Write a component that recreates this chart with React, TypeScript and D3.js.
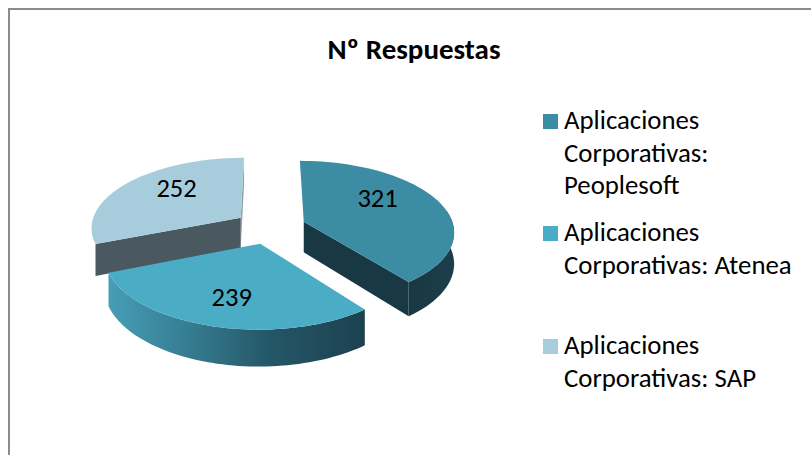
import React from "react";
import * as d3 from "d3";

const labels = ["Aplicaciones Corporativas: Peoplesoft", "Aplicaciones Corporativas: Atenea", "Aplicaciones Corporativas: SAP"];
const values = [321, 239, 252];
const topColors = ["#3c8ca4", "#4bacc6", "#a7cddc"];
const legendLines = [
  ["Aplicaciones", "Corporativas:", "Peoplesoft"],
  ["Aplicaciones", "Corporativas: Atenea"],
  ["Aplicaciones", "Corporativas: SAP"],
];
const title = "Nº Respuestas";

const W = 811, H = 455;
const FONT = "Carlito, Calibri, Lato, sans-serif";
const cx = 270, cy = 227, kx = 150, ky = 70, persp = 0.13, depth = 31, explode = 0.24;

type P = [number, number];
const project = (X: number, Y: number, down = 0): P => {
  const s = 1 / (1 - persp * Y);
  return [cx + kx * X * s, cy + ky * Y * s + down * s];
};

const arcs = d3.pie<number>().sort(null).value((d) => d)(values);
const line = d3.line();

function sliceGeom(a: d3.PieArcDatum<number>) {
  const mid = (a.startAngle + a.endAngle) / 2;
  const ox = explode * Math.sin(mid), oy = -explode * Math.cos(mid);
  const angles = d3.range(0, 61).map((i) => a.startAngle + ((a.endAngle - a.startAngle) * i) / 60);
  const rim = (t: number, down = 0) => project(ox + Math.sin(t), oy - Math.cos(t), down);
  const apex = (down = 0) => project(ox, oy, down);
  const top = [apex(), ...angles.map((t) => rim(t))] as P[];
  const front = angles.filter((t) => Math.cos(t) < 0.2);
  const wall = [...front.map((t) => rim(t)), ...front.slice().reverse().map((t) => rim(t, depth))] as P[];
  const cutStart = [apex(), rim(a.startAngle), rim(a.startAngle, depth), apex(depth)] as P[];
  const cutEnd = [apex(), rim(a.endAngle), rim(a.endAngle, depth), apex(depth)] as P[];
  const label = (r: number) => project(ox + r * Math.sin(mid), oy - r * Math.cos(mid));
  return { top, wall, cutStart, cutEnd, label };
}

const geoms = arcs.map(sliceGeom);
const closed = (p: P[]) => line(p)! + "Z";

const labelNudge: P[] = [[3, -12], [-5, 13], [-4, -11]];
const legendY = [129, 241, 354];

export default function App() {
  const [gP, gA, gS] = geoms;
  return (
    <svg width={W} height={H} style={{ position: "absolute", left: 0, top: 0, display: "block", background: "#fff" }}>
      <defs>
        <linearGradient id="wallA" gradientUnits="userSpaceOnUse" x1="110" x2="361" y1="0" y2="0">
          <stop offset="0" stopColor="#469db5" />
          <stop offset="0.3" stopColor="#367e93" />
          <stop offset="0.65" stopColor="#245566" />
          <stop offset="1" stopColor="#1c4250" />
        </linearGradient>
        <linearGradient id="wallP" gradientUnits="userSpaceOnUse" x1="405" x2="453" y1="0" y2="0">
          <stop offset="0" stopColor="#183742" />
          <stop offset="1" stopColor="#1c3e4a" />
        </linearGradient>
      </defs>
      <path d={`M${W + 5},9 H9 V${H + 5}`} fill="none" stroke="#8c8c8c" strokeWidth={2} />

      <path d={closed(gS.cutEnd)} fill="#8fa3ab" />
      <path d={closed(gS.cutStart)} fill="#4a5960" />
      <path d={closed(gS.top)} fill={topColors[2]} />

      <path d={closed(gP.wall)} fill="url(#wallP)" />
      <path d={closed(gP.cutEnd)} fill="#183843" />
      <path d={closed(gP.top)} fill={topColors[0]} />

      <path d={closed(gA.wall)} fill="url(#wallA)" />
      <path d={closed(gA.top)} fill={topColors[1]} />

      {geoms.map((g, i) => {
        const [x, y] = g.label(0.52);
        return (
          <text key={labels[i]} x={x + labelNudge[i][0]} y={y + labelNudge[i][1]} textAnchor="middle" dominantBaseline="central"
            fontFamily={FONT} fontSize={26.5} fill="#000">
            {values[i]}
          </text>
        );
      })}

      <text x={414} y={59} textAnchor="middle" fontFamily={FONT} fontSize={29} fontWeight={700} fill="#000">{title}</text>

      {legendLines.map((lines, i) => (
        <g key={labels[i]}>
          <rect x={543} y={legendY[i] - 15} width={15} height={15} fill={topColors[i]} />
          {lines.map((t, j) => (
            <text key={t} x={564} y={legendY[i] + j * 32.6} fontFamily={FONT} fontSize={26.8} fill="#000">{t}</text>
          ))}
        </g>
      ))}
    </svg>
  );
}
